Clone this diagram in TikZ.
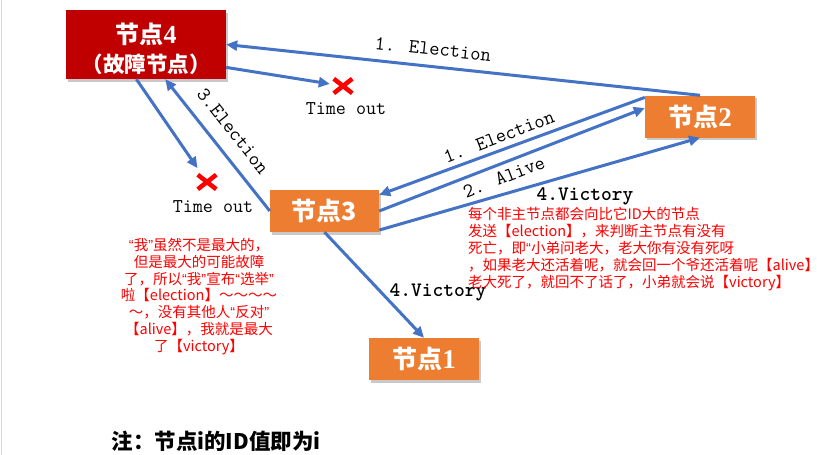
\documentclass[tikz,border=0pt]{standalone}
\usepackage{fontspec}
\usetikzlibrary{arrows.meta,shadows,shapes.misc,calc}
\newfontfamily\cjk{Noto Sans CJK SC}
\newfontfamily\serifb{Liberation Serif}
\newfontfamily\lat{Liberation Sans}
\newfontfamily\monob{lmmonolt10-bold.otf}
\newcommand{\myLq}{{\lat “}}
\newcommand{\myRq}{{\lat ”}}
\definecolor{nodered}{HTML}{C00000}
\definecolor{nodeorange}{HTML}{ED7D31}
\definecolor{arrowblue}{HTML}{4472C4}
\definecolor{notered}{HTML}{FF0000}
\tikzset{
  box/.style={minimum height=42pt, minimum width=110pt, inner sep=0pt, text=white,
    drop shadow={shadow xshift=2pt, shadow yshift=-2.5pt, opacity=0.35, fill=black!60}},
  orangebox/.style={box, fill=nodeorange},
  redbox/.style={box, fill=nodered},
  conn/.style={draw=arrowblue, line width=3pt, -{Triangle[length=11pt,width=10pt]}},
  lbl/.style={font=\ttfamily\fontsize{20}{22}\selectfont, inner sep=0pt},
  boldlbl/.style={font=\monob\fontsize{20.5}{22}\selectfont, inner sep=0pt},
  timeout/.style={font=\ttfamily\fontsize{19.5}{22}\selectfont, inner sep=0pt},
  xmark/.style={cross out, draw=notered, line width=4.5pt, minimum width=14pt, minimum height=10pt, inner sep=0pt},
  note/.style={font=\cjk\fontsize{14.5}{16.9}\selectfont, text=notered, inner sep=0pt},
  cjkb/.style={font=\cjk\bfseries\fontsize{25}{30}\selectfont},
}
\begin{document}
\begin{tikzpicture}[x=1pt,y=-1pt]
\useasboundingbox (0,0) rectangle (817,455);
\fill[white] (0,0) rectangle (817,455);
\draw[black!15, line width=1pt] (1,0) -- (1,455);

% nodes
\node[redbox, minimum width=160pt, minimum height=69pt, align=center,
      font=\cjk\bfseries\fontsize{24}{29}\selectfont] (n4) at (146,44.5)
  {\rule{0pt}{30pt}节点{\serifb\bfseries\fontsize{26}{29}\selectfont 4}\\
   {\fontsize{21.5}{29}\selectfont （故障节点）}};
\node[orangebox, cjkb] (n2) at (700,116.5)
  {节点{\serifb\bfseries\fontsize{27}{30}\selectfont 2}};
\node[orangebox, cjkb, minimum width=109pt] (n3) at (324.5,211) {节点3};
\node[orangebox, cjkb] (n1) at (424,359)
  {节点{\serifb\bfseries\fontsize{27}{30}\selectfont 1}};

% failure marks
\node[xmark] (xa) at (343,86) {};
\node[timeout] (ta) at (346,109) {Time out};
\node[xmark] (xb) at (207,182) {};
\node[timeout] (tb) at (213,207) {Time out};

% connectors
\draw[conn] (n2.north) -- (n4.east);
\draw[conn, shorten >=4pt] ($(n4.north east)!0.83!(n4.south east)$) -- (xa);
\draw[conn, shorten >=8pt] ($(n4.south west)!0.44!(n4.south east)$) -- (xb);
\draw[conn] (n3.west) -- ($(n4.south west)!0.62!(n4.south east)$);
\draw[conn] ($(n2.north west)!0.05!(n2.south west)$) -- ($(n3.north east)!0.12!(n3.south east)$);
\draw[conn] (n3.east) -- ($(n2.north west)!0.3!(n2.south west)$);
\draw[conn] ($(n3.north east)!0.95!(n3.south east)$) -- (n2.south);
\draw[conn] (n3.south) -- (n1.north);

% connector labels
\node[lbl, rotate=-6] (l1) at (433,49) {1. Election};
\node[lbl, rotate=-51.6] (l3) at (233,131) {3.Election};
\node[lbl, rotate=21] (l1b) at (499,137) {1. Election};
\node[lbl, rotate=21] (l2) at (504,177) {2. Alive};
\node[boldlbl] (l4a) at (585,196) {4.Victory};
\node[boldlbl] (l4b) at (438,292) {4.Victory};

% notes
\node[note, anchor=north west, align=left] (noteR) at (468,207)
  {每个非主节点都会向比它ID大的节点\\
   发送【election】，来判断主节点有没有\\
   死亡，即\myLq 小弟问老大，老大你有没有死呀\\
   ，如果老大还活着呢，就会回一个爷还活着呢【alive】\\
   老大死了，就回不了话了，小弟就会说【victory】};
\node[note, align=center] (noteL) at (199,296.5)
  {\myLq 我\myRq 虽然不是最大的，\\
   但是最大的可能故障\\
   了，所以\myLq 我\myRq 宣布\myLq 选举\myRq\\
   啦【election】～～～～\\
   ～，没有其他人\myLq 反对\myRq\\
   【alive】，我就是最大\\
   了【victory】};

\node[font=\cjk\bfseries\fontsize{21.5}{24}\selectfont, inner sep=0pt] (foot) at (216,441) {注：节点i的ID值即为i};
\end{tikzpicture}
\end{document}
